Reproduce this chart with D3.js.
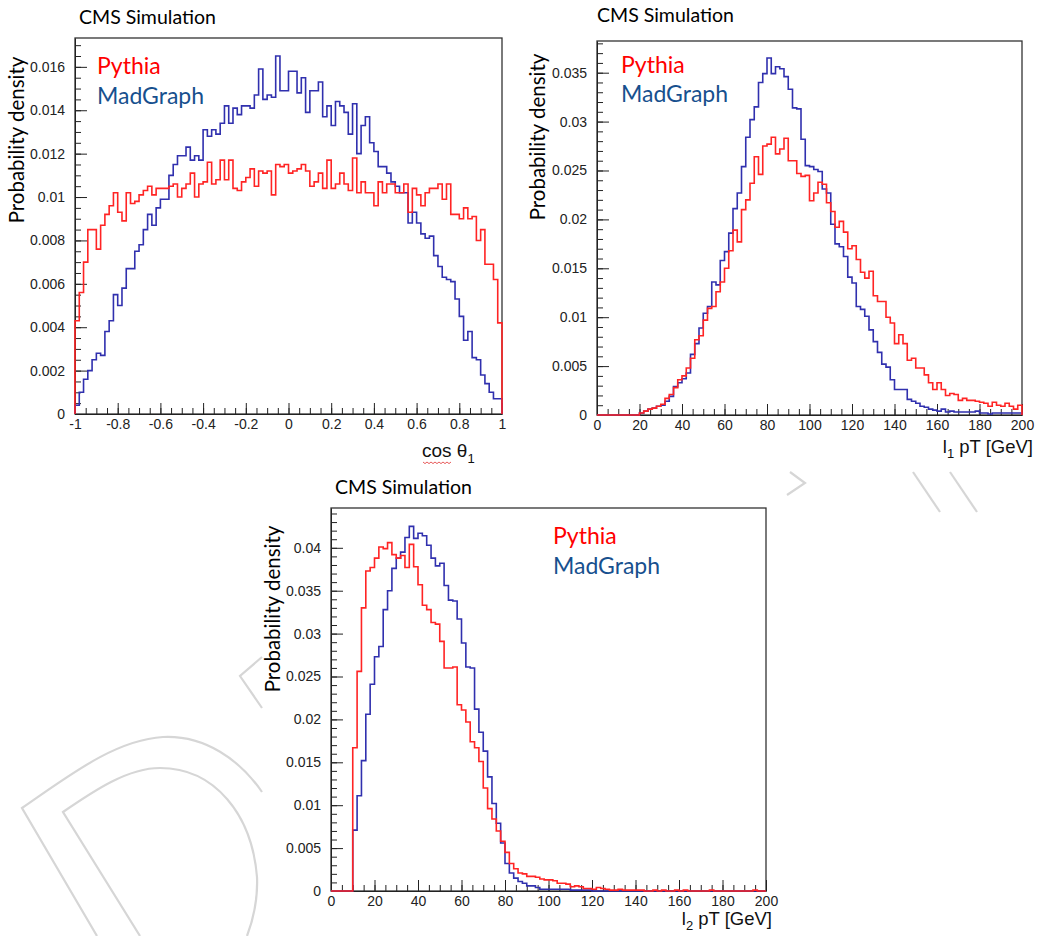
<!DOCTYPE html>
<html>
<head>
<meta charset="utf-8">
<script src="https://cdn.jsdelivr.net/npm/d3@7"></script>
<style>
  body { margin: 0; background: #fff; }
  svg { display: block; }
</style>
</head>
<body>
<div id="container"></div>
<script>
/* CONSTANTS AND GLOBALS */
const width = 1040, height = 936;
const red = "#ff2424", blue = "#3030ae", legendBlue = "#17508e";

/* DATA (probability density per bin, 100 bins each) */
// cos theta_1, -1 .. 1
const cosPythia = [
  0.0043,0.0056,0.007,0.0085,0.0085,0.0076,0.0087,0.0092,0.0096,0.0102,
  0.0093,0.0089,0.0102,0.0097,0.0098,0.0101,0.0103,0.0105,0.0101,0.0104,
  0.0104,0.0104,0.0105,0.0106,0.01,0.0104,0.0106,0.0111,0.01,0.0106,
  0.0107,0.0116,0.0106,0.0108,0.0117,0.0108,0.0117,0.0104,0.0103,0.0107,
  0.0109,0.0113,0.0105,0.0112,0.0111,0.0112,0.0101,0.0115,0.0114,0.0115,
  0.0111,0.0112,0.0113,0.0115,0.0112,0.0105,0.0107,0.0111,0.0104,0.0117,
  0.0104,0.0106,0.0111,0.0106,0.0103,0.0118,0.0102,0.0107,0.0102,0.0102,
  0.0096,0.0107,0.0102,0.0106,0.0106,0.0102,0.0102,0.0106,0.0093,0.0104,
  0.0101,0.0096,0.0102,0.0104,0.0104,0.0106,0.0099,0.0106,0.0092,0.0092,
  0.009,0.0095,0.009,0.0091,0.008,0.0085,0.0069,0.0069,0.0062,0.0042];
const cosMadGraph = [
  0.0004,0.001,0.0016,0.002,0.0025,0.0028,0.0027,0.0038,0.0043,0.0055,
  0.005,0.0058,0.0067,0.0067,0.0075,0.0078,0.0085,0.0092,0.0087,0.0095,
  0.0099,0.0099,0.011,0.0115,0.0119,0.0119,0.0123,0.0117,0.0119,0.0117,
  0.0131,0.0128,0.0131,0.0129,0.0134,0.0142,0.0134,0.0141,0.0138,0.0142,
  0.0142,0.0141,0.0147,0.0159,0.0145,0.0147,0.0146,0.0165,0.0149,0.0149,
  0.0158,0.0158,0.0148,0.0155,0.0139,0.0149,0.0149,0.0153,0.0137,0.0142,
  0.0133,0.0144,0.0142,0.0139,0.0129,0.0143,0.012,0.0133,0.0137,0.0125,
  0.0121,0.0114,0.0114,0.0111,0.0107,0.0105,0.0102,0.0102,0.0088,0.0093,
  0.0088,0.0083,0.0081,0.0082,0.0073,0.0068,0.0063,0.0062,0.0061,0.0053,
  0.0045,0.0034,0.0038,0.0026,0.0025,0.0018,0.0014,0.001,0.0007,0.0007];

// leading lepton pT, 0 .. 200 GeV
const l1Pythia = [
  0,0,0,0,0,0,0,0,0,0,
  0.0002,0.0004,0.0006,0.0007,0.0009,0.0011,0.0017,0.0021,0.0028,0.0036,
  0.004,0.0048,0.0058,0.0077,0.0081,0.0097,0.0109,0.0111,0.0126,0.0136,
  0.015,0.0168,0.0189,0.0177,0.021,0.022,0.0237,0.0264,0.0246,0.0275,
  0.0277,0.0284,0.0267,0.0272,0.0283,0.026,0.026,0.0247,0.0244,0.0245,
  0.0219,0.0227,0.0238,0.0236,0.0217,0.0208,0.0192,0.0198,0.0187,0.017,
  0.0173,0.0159,0.0146,0.014,0.0147,0.0122,0.0116,0.0116,0.01,0.0094,
  0.0073,0.0082,0.0073,0.0056,0.0058,0.0048,0.0048,0.0041,0.0033,0.0026,
  0.0033,0.0026,0.002,0.0022,0.0021,0.0015,0.0017,0.0015,0.0015,0.0014,
  0.0013,0.0012,0.0009,0.0013,0.001,0.0009,0.0012,0.0009,0.0006,0.001];
const l1MadGraph = [
  0,0,0,0,0,0,0,0,0,0,
  0.0002,0.0004,0.0006,0.0007,0.0009,0.001,0.0014,0.0019,0.0029,0.0033,
  0.0037,0.0043,0.0062,0.0073,0.0089,0.0104,0.0111,0.0136,0.0133,0.0158,
  0.0167,0.0186,0.0211,0.0227,0.0254,0.0284,0.0302,0.0315,0.034,0.0349,
  0.0365,0.0349,0.0356,0.0354,0.0346,0.0333,0.0314,0.0313,0.0282,0.0255,
  0.0254,0.0251,0.0249,0.0231,0.0227,0.0195,0.0175,0.0172,0.0162,0.0141,
  0.0135,0.0111,0.0108,0.0101,0.0087,0.0075,0.0064,0.0052,0.0049,0.0036,
  0.0026,0.0026,0.0026,0.0016,0.0014,0.0012,0.0009,0.0008,0.0006,0.0005,
  0.0004,0.0006,0.0003,0.0004,0.0003,0.0003,0.0003,0.0003,0.0003,0.0004,
  0.0002,0.0002,0.0001,0.0002,0.0002,0.0002,0.0002,0.0002,0.0002,0.0002];

// second lepton pT, 0 .. 200 GeV
const l2Pythia = [
  0,0,0,0,0,0.0167,0.0256,0.033,0.0373,0.0377,
  0.0388,0.0401,0.0399,0.0406,0.0392,0.0388,0.0391,0.0377,0.0404,0.0378,
  0.0357,0.0333,0.0328,0.0313,0.0311,0.0291,0.026,0.026,0.0261,0.0217,
  0.0211,0.0197,0.0174,0.0167,0.0151,0.012,0.0096,0.0084,0.007,0.0058,
  0.0045,0.0032,0.0026,0.0021,0.002,0.0017,0.0017,0.0016,0.0014,0.0013,
  0.0013,0.0012,0.0009,0.0009,0.0008,0.0005,0.0006,0.0005,0.0003,0.0003,
  0.0002,0.0004,0.0003,0.0002,0.0001,0.0001,0.0002,0.0001,0.0001,0.0001,
  0.0001,0.0001,0,0,0.0001,0,0.0001,0,0,0.0001,
  0,0.0001,0,0,0,0,0,0.0001,0,0,
  0,0,0,0,0,0,0,0.0001,0,0];
const l2MadGraph = [
  0,0,0,0,0,0.0071,0.0111,0.0152,0.0206,0.0241,
  0.0273,0.0285,0.0328,0.035,0.0376,0.0388,0.0395,0.0412,0.0425,0.0411,
  0.0417,0.0414,0.0403,0.0388,0.0379,0.0382,0.0356,0.0339,0.0338,0.0317,
  0.0289,0.0261,0.026,0.0212,0.0185,0.0163,0.0133,0.0102,0.0079,0.0056,
  0.0032,0.0021,0.0015,0.0011,0.0009,0.0006,0.0006,0.0004,0.0002,0.0002,
  0.0002,0.0002,0.0002,0.0002,0.0002,0.0001,0.0001,0.0001,0.0001,0.0001,
  0,0,0,0,0,0,0,0,0,0,
  0,0,0,0,0,0,0,0,0,0,
  0,0,0,0,0,0,0,0,0,0,
  0,0,0,0,0,0,0,0,0,0];

// tick labels
const cosTicks = [-1,-0.8,-0.6,-0.4,-0.2,0,0.2,0.4,0.6,0.8,1];
const ptTicks = [0,20,40,60,80,100,120,140,160,180,200];
const cosYTicks = [0,0.002,0.004,0.006,0.008,0.01,0.012,0.014,0.016];
const l1YTicks = [0,0.005,0.01,0.015,0.02,0.025,0.03,0.035];
const l2YTicks = [0,0.005,0.01,0.015,0.02,0.025,0.03,0.035,0.04];
const seriesNames = ["Pythia", "MadGraph"];

/* CREATE SVG ELEMENT */
const svg = d3.select("#container")
  .append("svg")
  .attr("width", width)
  .attr("height", height);

// faint watermark outline behind the panels
const wm = svg.append("g")
  .attr("fill", "none")
  .attr("stroke", "#d6d6d6")
  .attr("stroke-width", 2.2);
wm.append("path").attr("d", "M97,936 L22,808 C70,775 115,740 163,737 C205,735 240,760 262,792");
wm.append("path").attr("d", "M140,936 L63,812 C95,790 128,768 160,768 C215,768 252,815 257,877 C258,900 253,920 247,936");
wm.append("path").attr("d", "M262,657 L240,676 L262,708");
wm.append("path").attr("d", "M790,472 L805,483 L787,495");
wm.append("path").attr("d", "M913,472 L940,512");
wm.append("path").attr("d", "M950,472 L977,512");

const fmt = d => String(+d.toFixed(4));

/* PANELS */
const panels = [
  { left: 75, right: 502, top: 38, bottom: 414, xDomain: [-1, 1], yMax: 0.01733,
    xTicks: cosTicks, xMinor: 0.05, yTicks: cosYTicks, yMinor: 0.0005,
    series: [cosMadGraph, cosPythia],
    title: [79, 24], legend: [97, 74, 104], yTitle: [24, 140] },
  { left: 597, right: 1022, top: 41, bottom: 415, xDomain: [0, 200], yMax: 0.03824,
    xTicks: ptTicks, xMinor: 5, yTicks: l1YTicks, yMinor: 0.001,
    series: [l1MadGraph, l1Pythia],
    title: [597, 22], legend: [621, 73, 102], yTitle: [545, 137] },
  { left: 331, right: 766, top: 508, bottom: 891, xDomain: [0, 200], yMax: 0.04464,
    xTicks: ptTicks, xMinor: 5, yTicks: l2YTicks, yMinor: 0.001,
    series: [l2MadGraph, l2Pythia],
    title: [335, 494], legend: [553, 544, 574], yTitle: [280, 609] }
];

const histLine = d3.line()
  .x(d => d[0])
  .y(d => d[1])
  .curve(d3.curveStepAfter);

panels.forEach(p => {
  const x = d3.scaleLinear().domain(p.xDomain).range([p.left, p.right]);
  const y = d3.scaleLinear().domain([0, p.yMax]).range([p.bottom, p.top]);
  const g = svg.append("g");

  g.append("rect")
    .attr("x", p.left).attr("y", p.top)
    .attr("width", p.right - p.left).attr("height", p.bottom - p.top)
    .attr("fill", "#fff")
    .attr("stroke", "#333")
    .attr("stroke-width", 1.3);

  // minor ticks
  const xMinor = d3.range(p.xDomain[0], p.xDomain[1] + 1e-9, p.xMinor);
  const yMinor = d3.range(0, p.yMax, p.yMinor);
  g.append("g")
    .attr("transform", `translate(0,${p.bottom})`)
    .call(d3.axisBottom(x).tickValues(xMinor).tickSize(-6).tickSizeOuter(0).tickFormat(""))
    .call(a => a.select(".domain").remove());
  g.append("g")
    .attr("transform", `translate(${p.left},0)`)
    .call(d3.axisLeft(y).tickValues(yMinor).tickSize(-6).tickSizeOuter(0).tickFormat(""))
    .call(a => a.select(".domain").remove());

  // major ticks and labels
  const xAxis = g.append("g")
    .attr("transform", `translate(0,${p.bottom})`)
    .call(d3.axisBottom(x).tickValues(p.xTicks).tickSize(-11).tickSizeOuter(0).tickPadding(5).tickFormat(fmt));
  const yAxis = g.append("g")
    .attr("transform", `translate(${p.left},0)`)
    .call(d3.axisLeft(y).tickValues(p.yTicks).tickSize(-12).tickSizeOuter(0).tickPadding(10).tickFormat(fmt));
  [xAxis, yAxis].forEach(a => {
    a.attr("font-family", "'Liberation Sans', Arial, sans-serif").attr("font-size", 14);
    a.selectAll("text").attr("fill", "#222");
  });
  g.selectAll(".tick line, .domain").attr("stroke", "#222");

  // histograms, MadGraph first then Pythia on top
  p.series.forEach((vals, k) => {
    const n = vals.length;
    const edges = d3.range(n + 1).map(i => p.xDomain[0] + i * (p.xDomain[1] - p.xDomain[0]) / n);
    const pts = [[x(edges[0]), y(0)]]
      .concat(vals.map((v, i) => [x(edges[i]), y(v)]))
      .concat([[x(edges[n]), y(vals[n - 1])], [x(edges[n]), y(0)]]);
    g.append("path")
      .attr("d", histLine(pts))
      .attr("fill", "none")
      .attr("stroke", k === 0 ? blue : red)
      .attr("stroke-width", 1.6);
  });

  // texts
  g.append("text")
    .attr("x", p.title[0]).attr("y", p.title[1])
    .attr("font-family", "Lato, 'Open Sans', sans-serif")
    .attr("font-size", 19.5)
    .attr("fill", "#000")
    .text("CMS Simulation");
  seriesNames.forEach((name, i) => {
    g.append("text")
      .attr("x", p.legend[0]).attr("y", p.legend[i + 1])
      .attr("font-family", "Lato, 'Open Sans', sans-serif")
      .attr("font-size", 23)
      .attr("fill", i === 0 ? "#ff0000" : legendBlue)
      .text(name);
  });
  g.append("text")
    .attr("transform", `translate(${p.yTitle[0]},${p.yTitle[1]}) rotate(-90)`)
    .attr("text-anchor", "middle")
    .attr("font-family", "Lato, 'Open Sans', sans-serif")
    .attr("font-size", 20.5)
    .attr("fill", "#000")
    .text("Probability density");
});

// x axis titles
const axisFont = "'Liberation Sans', Arial, sans-serif";
const cosTitle = svg.append("text")
  .attr("x", 422).attr("y", 457)
  .attr("font-family", axisFont).attr("font-size", 19).attr("fill", "#111");
cosTitle.append("tspan").text("cos θ");
cosTitle.append("tspan").attr("dy", 6).attr("font-size", 13).text("1");
// spell-check squiggle under "cos"
svg.append("path")
  .attr("d", d3.line()(d3.range(0, 15).map(i => [423 + i * 2, 462 + (i % 2) * 1.6])))
  .attr("fill", "none").attr("stroke", "#e03030").attr("stroke-width", 0.8);

[[1033, 453, "1"], [772, 925, "2"]].forEach(([xr, yb, sub]) => {
  const t = svg.append("text")
    .attr("x", xr).attr("y", yb)
    .attr("text-anchor", "end")
    .attr("font-family", axisFont).attr("font-size", 18.5).attr("fill", "#111");
  t.append("tspan").text("l");
  t.append("tspan").attr("dy", 5).attr("font-size", 13).text(sub);
  t.append("tspan").attr("dy", -5).text(" pT [GeV]");
});
</script>
</body>
</html>
